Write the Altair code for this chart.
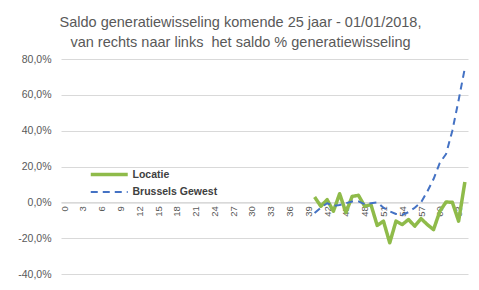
import altair as alt
import pandas as pd

categories = list(range(65))
tick_labels = categories[::3]
series = ["Locatie", "Brussels Gewest"]
colors = ["#8FBB4A", "#4472C4"]
start = 40
locatie = [3.0, -2.2, 1.5, -5.0, 4.8, -5.7, 3.3, 3.9, -2.2, -1.3, -12.9, -10.5, -22.6,
           -10.5, -12.4, -9.6, -13.3, -9.1, -12.4, -15.2, -5.0, 0.2, 0.0, -10.5, 11.3]
brussel = [-6.0, -3.0, -0.5, -2.0, -1.5, -0.5, 0.5, 0.5, -1.0, -0.5, 0.0, -3.0, -5.0,
           -6.5, -7.0, -5.5, -3.0, 0.0, 6.0, 13.0, 22.0, 27.0, 40.0, 57.0, 75.0]
y_ticks = [-0.4, -0.2, 0.0, 0.2, 0.4, 0.6, 0.8]
title_lines = ["Saldo generatiewisseling komende 25 jaar - 01/01/2018,",
               "van rechts naar links\u00a0 het saldo % generatiewisseling"]

rows = []
for name, vals in zip(series, [locatie, brussel]):
    for i, v in enumerate(vals):
        rows.append({"cat": start + i, "serie": name, "waarde": v / 100})
df = pd.DataFrame(rows)

FONT = "Liberation Sans"
GRAY = "#595959"
leg = alt.Legend(title=None, orient="none", legendX=37.25, legendY=104.5,
                 symbolType="M-2,0H2", symbolSize=342, rowPadding=0,
                 labelFontSize=10.5, labelFontWeight="bold",
                 labelColor="#404040", labelOffset=12.25, padding=0, labelFont=FONT)

chart = alt.Chart(df).mark_line(strokeJoin="round").encode(
    x=alt.X("cat:O", scale=alt.Scale(type="point", padding=0.5, domain=categories),
            axis=alt.Axis(values=tick_labels, labelAngle=270, title=None, ticks=False,
                          domainColor="#d9d9d9", labelColor=GRAY, labelFontSize=9.5,
                          labelPadding=3, offset=-71.3, grid=False, labelFont=FONT)),
    y=alt.Y("waarde:Q", scale=alt.Scale(domain=[-0.4, 0.8], nice=False),
            axis=alt.Axis(values=y_ticks,
                          labelExpr="(datum.value < 0 ? '-' : '') + replace(format(abs(datum.value), '.1%'), '.', ',')",
                          title=None, domain=False, ticks=False, gridColor="#d9d9d9",
                          labelPadding=10, labelFontSize=10.5, labelColor=GRAY, labelFont=FONT)),
    color=alt.Color("serie:N", scale=alt.Scale(domain=series, range=colors), legend=leg),
    strokeDash=alt.StrokeDash("serie:N", scale=alt.Scale(domain=series, range=[[1, 0], [7, 5]]), legend=leg),
    strokeWidth=alt.StrokeWidth("serie:N", scale=alt.Scale(domain=series, range=[3.5, 2]), legend=leg),
).properties(
    width=407, height=215,
    title=alt.TitleParams(text=title_lines, fontSize=14.5, font=FONT, color=GRAY,
                          fontWeight="normal", anchor="middle", dx=-24, offset=4, lineHeight=20),
    autosize=alt.AutoSizeParams(type="none"),
    padding={"left": 53, "top": 51, "right": 3, "bottom": 8},
).configure_view(stroke=None)

chart.save("out.html", embed_options={"renderer": "svg", "actions": False})
